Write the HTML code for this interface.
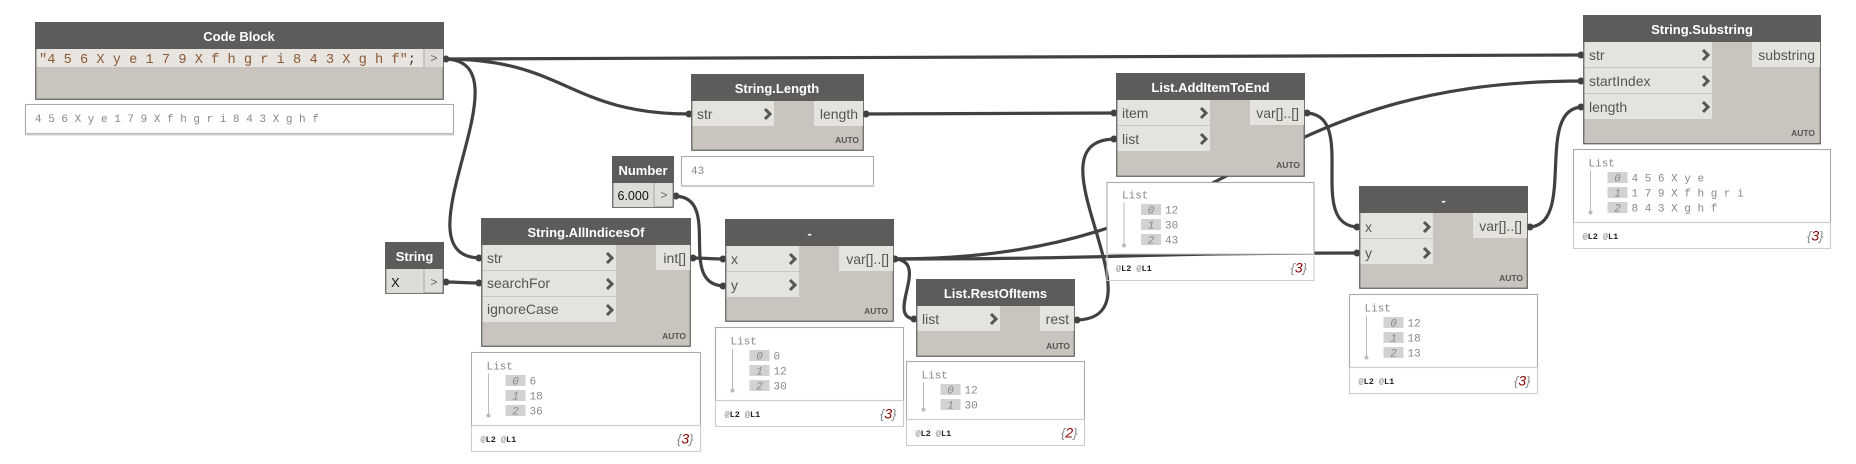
<!DOCTYPE html>
<html><head><meta charset="utf-8">
<style>
html,body{margin:0;padding:0;background:#fff;width:1856px;height:464px;overflow:hidden}
svg{display:block}
.w{fill:none;stroke:#414141;stroke-width:3.2}
.nub{fill:#414141}
.body{fill:#c9c5be;stroke:#5e5c5a;stroke-width:1.2}
.head{fill:#5e5c5a}
.port{fill:#e4e3de}
.sep{stroke:#c9c7c1;stroke-width:1}
.t{font:bold 13px "Liberation Sans",sans-serif;fill:#fff;text-anchor:middle}
.p{font:14px "Liberation Sans",sans-serif;fill:#555}
.e{text-anchor:end}
.ch{fill:none;stroke:#555;stroke-width:3}
.a{font:bold 8.5px "Liberation Sans",sans-serif;fill:#555;text-anchor:end}
.m{font:11px "Liberation Mono",monospace;fill:#888}
.i{font:italic 11px "Liberation Mono",monospace;fill:#888;text-anchor:middle}
.b{fill:#d2d2d2}
.pv{fill:#fff;stroke:#aaa;stroke-width:1.1}
.ln{stroke:#ccc;stroke-width:1.1;fill:none}
.bar{stroke:#bbb;stroke-width:1}
.dot{fill:#bbb}
.at{font:8.5px "Liberation Mono",monospace;fill:#888}
.at tspan{font-weight:bold;fill:#222}
.n{font:italic 13px "Liberation Sans",sans-serif;fill:#888;text-anchor:end}
.n tspan{fill:#8b0000;font-size:14px}
</style></head><body>
<svg width="1856" height="464" viewBox="0 0 1856 464" xmlns="http://www.w3.org/2000/svg">
<rect width="1856" height="464" fill="#fff"/>

<!-- wires -->
<path class="w" d="M444 59C1014 59 1014 55 1583 55"/>
<path class="w" d="M444 59C567 59 567 114 691 114"/>
<path class="w" d="M444 59C534 59 391 258 481 258"/>
<path class="w" d="M444 282C462 282 462 283 481 283"/>
<path class="w" d="M691 258C708 258 708 259 725 259"/>
<path class="w" d="M674 196C724 196 675 286 725 286"/>
<path class="w" d="M893 259C1238 259 1238 81 1583 81"/>
<path class="w" d="M893 259C1126 259 1126 253 1359 253"/>
<path class="w" d="M893 259C933 259 883 319 916 319"/>
<path class="w" d="M864 114C990 114 990 113 1116 113"/>
<path class="w" d="M1075 320C1170 320 1021 139 1116 139"/>
<path class="w" d="M1305 113C1360 113 1304 227 1359 227"/>
<path class="w" d="M1528 227C1578 227 1533 107 1583 107"/>

<!-- nubs -->
<g class="nub">
<circle cx="446" cy="59" r="3.500"/><circle cx="446" cy="282" r="3.500"/><circle cx="676" cy="196" r="3.500"/>
<circle cx="693" cy="258" r="3.500"/><circle cx="895" cy="259" r="3.500"/><circle cx="866" cy="114" r="3.500"/>
<circle cx="1077" cy="320" r="3.500"/><circle cx="1307" cy="113" r="3.500"/><circle cx="1530" cy="227" r="3.500"/>
<circle cx="479" cy="258" r="3.500"/><circle cx="479" cy="283" r="3.500"/><circle cx="723" cy="259" r="3.500"/><circle cx="723" cy="286" r="3.500"/>
<circle cx="689" cy="114" r="3.500"/><circle cx="914" cy="319" r="3.500"/><circle cx="1114" cy="113" r="3.500"/><circle cx="1114" cy="139" r="3.500"/>
<circle cx="1357" cy="227" r="3.500"/><circle cx="1357" cy="253" r="3.500"/><circle cx="1581" cy="55" r="3.500"/><circle cx="1581" cy="81" r="3.500"/><circle cx="1581" cy="107" r="3.500"/>
</g>

<!-- previews -->
<rect class="pv" x="25.5" y="104.5" width="428" height="29"/><path class="ln" d="M25 134.5H454" style="stroke-width:2"/>
<text class="m" x="35" y="122">4 5 6 X y e 1 7 9 X f h g r i 8 4 3 X g h f</text>
<rect class="pv" x="681.5" y="156.5" width="192" height="29"/><path class="ln" d="M681 186H874" style="stroke-width:2"/>
<text class="m" x="691" y="174">43</text>

<g transform="translate(471.5 352.5)">
<rect class="pv" width="229" height="73"/><path class="ln" d="M0 73V99H229V73H0"/>
<text class="m" x="15" y="17">List</text><path class="bar" d="M17 21V62"/><circle class="dot" cx="17" cy="63" r="2"/>
<rect class="b" x="34" y="22.500" width="20" height="11"/><rect class="b" x="34" y="37.500" width="20" height="11"/><rect class="b" x="34" y="52.500" width="20" height="11"/>
<text class="i" x="44" y="32">0</text><text class="i" x="44" y="47">1</text><text class="i" x="44" y="62">2</text>
<text class="m" x="58" y="32">6</text><text class="m" x="58" y="47">18</text><text class="m" x="58" y="62">36</text>
<text class="at" x="9" y="89.500">@<tspan>L2</tspan> @<tspan>L1</tspan></text>
<text class="n" x="222" y="91">{<tspan>3</tspan>}</text>
</g>

<g transform="translate(715.5 327.5)">
<rect class="pv" width="188" height="73"/><path class="ln" d="M0 73V99H188V73H0"/>
<text class="m" x="15" y="17">List</text><path class="bar" d="M17 21V62"/><circle class="dot" cx="17" cy="63" r="2"/>
<rect class="b" x="34" y="22.500" width="20" height="11"/><rect class="b" x="34" y="37.500" width="20" height="11"/><rect class="b" x="34" y="52.500" width="20" height="11"/>
<text class="i" x="44" y="32">0</text><text class="i" x="44" y="47">1</text><text class="i" x="44" y="62">2</text>
<text class="m" x="58" y="32">0</text><text class="m" x="58" y="47">12</text><text class="m" x="58" y="62">30</text>
<text class="at" x="9" y="89.500">@<tspan>L2</tspan> @<tspan>L1</tspan></text>
<text class="n" x="181" y="91">{<tspan>3</tspan>}</text>
</g>

<g transform="translate(906.5 361.5)">
<rect class="pv" width="178" height="58"/><path class="ln" d="M0 58V84H178V58H0"/>
<text class="m" x="15" y="17">List</text><path class="bar" d="M17 21V47"/><circle class="dot" cx="17" cy="48" r="2"/>
<rect class="b" x="34" y="22.500" width="20" height="11"/><rect class="b" x="34" y="37.500" width="20" height="11"/>
<text class="i" x="44" y="32">0</text><text class="i" x="44" y="47">1</text>
<text class="m" x="58" y="32">12</text><text class="m" x="58" y="47">30</text>
<text class="at" x="9" y="74.500">@<tspan>L2</tspan> @<tspan>L1</tspan></text>
<text class="n" x="171" y="76">{<tspan>2</tspan>}</text>
</g>

<g transform="translate(1107 182.5)">
<rect class="pv" width="207" height="71.500"/><path class="ln" d="M0 71.500V98H207V71.500H0"/>
<text class="m" x="15" y="16">List</text><path class="bar" d="M17 20V62"/><circle class="dot" cx="17" cy="63" r="2"/>
<rect class="b" x="34" y="21.500" width="20" height="11"/><rect class="b" x="34" y="36.500" width="20" height="11"/><rect class="b" x="34" y="51.500" width="20" height="11"/>
<text class="i" x="44" y="31">0</text><text class="i" x="44" y="46">1</text><text class="i" x="44" y="61">2</text>
<text class="m" x="58" y="31">12</text><text class="m" x="58" y="46">30</text><text class="m" x="58" y="61">43</text>
<text class="at" x="9" y="88.500">@<tspan>L2</tspan> @<tspan>L1</tspan></text>
<text class="n" x="200" y="90">{<tspan>3</tspan>}</text>
</g>

<g transform="translate(1349.5 294.5)">
<rect class="pv" width="188" height="73"/><path class="ln" d="M0 73V99H188V73H0"/>
<text class="m" x="15" y="17">List</text><path class="bar" d="M17 21V62"/><circle class="dot" cx="17" cy="63" r="2"/>
<rect class="b" x="34" y="22.500" width="20" height="11"/><rect class="b" x="34" y="37.500" width="20" height="11"/><rect class="b" x="34" y="52.500" width="20" height="11"/>
<text class="i" x="44" y="32">0</text><text class="i" x="44" y="47">1</text><text class="i" x="44" y="62">2</text>
<text class="m" x="58" y="32">12</text><text class="m" x="58" y="47">18</text><text class="m" x="58" y="62">13</text>
<text class="at" x="9" y="89.500">@<tspan>L2</tspan> @<tspan>L1</tspan></text>
<text class="n" x="181" y="91">{<tspan>3</tspan>}</text>
</g>

<g transform="translate(1573.5 149.5)">
<rect class="pv" width="257" height="73"/><path class="ln" d="M0 73V99H257V73H0"/>
<text class="m" x="15" y="17">List</text><path class="bar" d="M17 21V62"/><circle class="dot" cx="17" cy="63" r="2"/>
<rect class="b" x="34" y="22.500" width="20" height="11"/><rect class="b" x="34" y="37.500" width="20" height="11"/><rect class="b" x="34" y="52.500" width="20" height="11"/>
<text class="i" x="44" y="32">0</text><text class="i" x="44" y="47">1</text><text class="i" x="44" y="62">2</text>
<text class="m" x="58" y="32">4 5 6 X y e</text><text class="m" x="58" y="47">1 7 9 X f h g r i</text><text class="m" x="58" y="62">8 4 3 X g h f</text>
<text class="at" x="9" y="89.500">@<tspan>L2</tspan> @<tspan>L1</tspan></text>
<text class="n" x="250" y="91">{<tspan>3</tspan>}</text>
</g>

<!-- Code Block -->
<rect class="body" x="35.750" y="22.750" width="407.500" height="76.500"/>
<rect class="head" x="35" y="22" width="409" height="27"/>
<rect x="36.500" y="49" width="387.500" height="18" fill="#e8e4e0"/>
<rect x="424" y="49" width="19" height="18" fill="#dedbd6"/><path d="M424 49V67" stroke="#a9a6a0" stroke-width="1"/>
<text class="t" x="239" y="41">Code Block</text>
<text x="39" y="63" style="font:13.67px 'Liberation Mono',monospace;fill:#8a5a36" xml:space="preserve">"4 5 6 X y e 1 7 9 X f h g r i 8 4 3 X g h f"<tspan fill="#333">;</tspan></text>
<text x="434" y="62" style="font:12px 'Liberation Mono',monospace;fill:#666" text-anchor="middle">&gt;</text>

<!-- String -->
<rect class="body" x="385.750" y="242.750" width="57.500" height="50.500" style="fill:#e0ded9"/>
<rect class="head" x="385" y="242" width="59" height="27"/>
<rect x="386.500" y="269" width="37.500" height="24" fill="#dedcd7"/><path d="M424 269V293" stroke="#a9a6a0" stroke-width="1"/>
<text class="t" x="414.500" y="261">String</text>
<text x="391" y="287" style="font:13px 'Liberation Sans',sans-serif;fill:#111">X</text>
<text x="434" y="286" style="font:12px 'Liberation Mono',monospace;fill:#666" text-anchor="middle">&gt;</text>

<!-- Number -->
<rect class="body" x="612.750" y="156.750" width="60.500" height="50.500" style="fill:#e0ded9"/>
<rect class="head" x="612" y="156" width="62" height="27"/>
<rect x="613.500" y="183" width="40.500" height="24" fill="#dedcd7"/><path d="M654 183V207" stroke="#a9a6a0" stroke-width="1"/>
<text class="t" x="643" y="175">Number</text>
<text x="617.500" y="200" style="font:12.5px 'Liberation Sans',sans-serif;fill:#111">6.000</text>
<text x="664" y="199" style="font:12px 'Liberation Mono',monospace;fill:#666" text-anchor="middle">&gt;</text>

<!-- String.AllIndicesOf -->
<rect class="body" x="481.750" y="218.750" width="208.500" height="127.500"/>
<rect class="head" x="481" y="218" width="210" height="27"/>
<rect class="port" x="482.500" y="245" width="133.500" height="77"/>
<path class="sep" d="M482.500 270.500H616M482.500 296.500H616"/>
<rect class="port" x="656" y="245" width="34" height="25"/>
<text class="t" x="586" y="237">String.AllIndicesOf</text>
<text class="p" x="487" y="263">str</text><text class="p" x="487" y="288">searchFor</text><text class="p" x="487" y="314">ignoreCase</text>
<path class="ch" d="M607 253L612 258L607 263M607 279L612 284L607 289M607 305L612 310L607 315"/>
<text class="p e" x="686" y="263">int[]</text>
<text class="a" x="686" y="339">AUTO</text>

<!-- minus 1 -->
<rect class="body" x="725.750" y="219.750" width="167.500" height="101.500"/>
<rect class="head" x="725" y="219" width="169" height="27"/>
<rect class="port" x="726.500" y="246" width="72.500" height="51"/>
<path class="sep" d="M726.500 271.500H799"/>
<rect class="port" x="839" y="246" width="54" height="25"/>
<text class="t" x="809.500" y="238">-</text>
<text class="p" x="731" y="264">x</text><text class="p" x="731" y="290">y</text>
<path class="ch" d="M790 254L795 259L790 264M790 280L795 285L790 290"/>
<text class="p e" x="889" y="264">var[]..[]</text>
<text class="a" x="888" y="314">AUTO</text>

<!-- String.Length -->
<rect class="body" x="691.750" y="74.750" width="171.500" height="75.500"/>
<rect class="head" x="691" y="74" width="173" height="27"/>
<rect class="port" x="692.500" y="101" width="81.500" height="25"/>
<rect class="port" x="814" y="101" width="49" height="25"/>
<text class="t" x="777" y="93">String.Length</text>
<text class="p" x="697" y="119">str</text>
<path class="ch" d="M765 109L770 114L765 119"/>
<text class="p e" x="858" y="119">length</text>
<text class="a" x="859" y="143">AUTO</text>

<!-- List.RestOfItems -->
<rect class="body" x="916.750" y="279.750" width="157.500" height="76.500"/>
<rect class="head" x="916" y="279" width="159" height="27"/>
<rect class="port" x="917.500" y="306" width="82.500" height="25"/>
<rect class="port" x="1040" y="306" width="34" height="25"/>
<text class="t" x="995.500" y="298">List.RestOfItems</text>
<text class="p" x="922" y="324">list</text>
<path class="ch" d="M991 314L996 319L991 324"/>
<text class="p e" x="1069" y="324">rest</text>
<text class="a" x="1070" y="349">AUTO</text>

<!-- List.AddItemToEnd -->
<rect class="body" x="1116.750" y="73.750" width="187.500" height="102.500"/>
<rect class="head" x="1116" y="73" width="189" height="27"/>
<rect class="port" x="1117.500" y="100" width="92.500" height="51"/>
<path class="sep" d="M1117.500 125.500H1210"/>
<rect class="port" x="1250" y="100" width="54" height="25"/>
<text class="t" x="1210.500" y="92">List.AddItemToEnd</text>
<text class="p" x="1122" y="118">item</text><text class="p" x="1122" y="144">list</text>
<path class="ch" d="M1201 108L1206 113L1201 118M1201 134L1206 139L1201 144"/>
<text class="p e" x="1299" y="118">var[]..[]</text>
<text class="a" x="1300" y="168">AUTO</text>

<!-- minus 2 -->
<rect class="body" x="1359.750" y="186.750" width="167.500" height="101.500"/>
<rect class="head" x="1359" y="186" width="169" height="27"/>
<rect class="port" x="1360.500" y="213" width="72.500" height="51"/>
<path class="sep" d="M1360.500 238.500H1433"/>
<rect class="port" x="1473" y="213" width="54" height="25"/>
<text class="t" x="1443.500" y="205">-</text>
<text class="p" x="1365" y="232">x</text><text class="p" x="1365" y="258">y</text>
<path class="ch" d="M1424 222L1429 227L1424 232M1424 248L1429 253L1424 258"/>
<text class="p e" x="1522" y="231">var[]..[]</text>
<text class="a" x="1523" y="281">AUTO</text>

<!-- String.Substring -->
<rect class="body" x="1583.750" y="15.750" width="236.500" height="128"/>
<rect class="head" x="1583" y="15" width="238" height="27"/>
<rect class="port" x="1584.500" y="42" width="127.500" height="77"/>
<path class="sep" d="M1584.500 67.500H1712M1584.500 93.500H1712"/>
<rect class="port" x="1752" y="42" width="68" height="25"/>
<text class="t" x="1702" y="34">String.Substring</text>
<text class="p" x="1589" y="60">str</text><text class="p" x="1589" y="86">startIndex</text><text class="p" x="1589" y="112">length</text>
<path class="ch" d="M1703 50L1708 55L1703 60M1703 76L1708 81L1703 86M1703 102L1708 107L1703 112"/>
<text class="p e" x="1815" y="60">substring</text>
<text class="a" x="1815" y="136">AUTO</text>
</svg>
</body></html>
